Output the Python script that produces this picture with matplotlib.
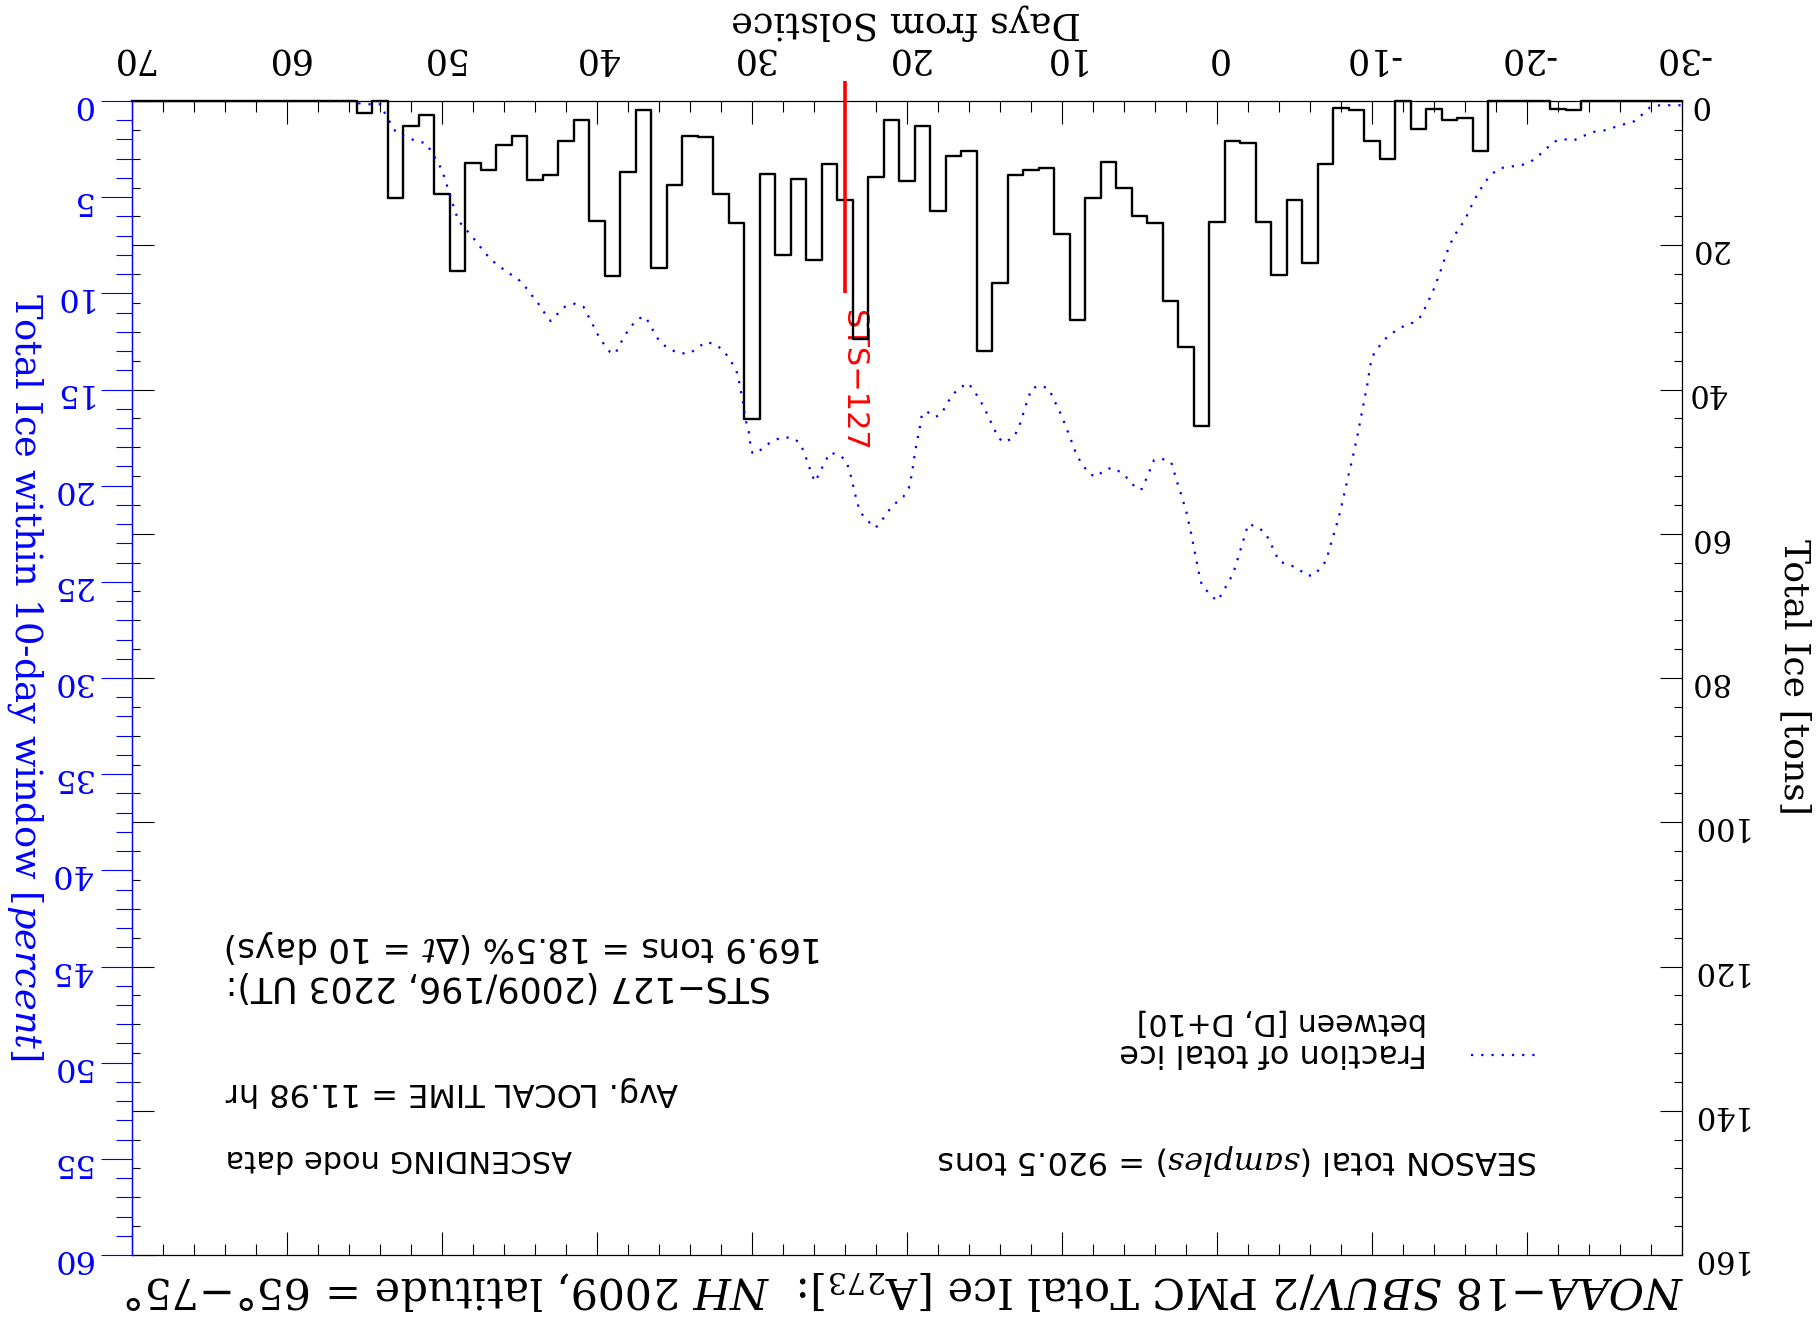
import matplotlib
matplotlib.use("Agg")
import matplotlib.pyplot as plt
from matplotlib.ticker import MultipleLocator
from matplotlib.lines import Line2D

plt.rcParams['mathtext.fontset'] = 'custom'
plt.rcParams['mathtext.rm'] = 'DejaVu Serif'
plt.rcParams['mathtext.it'] = 'DejaVu Serif:italic'
plt.rcParams['mathtext.bf'] = 'DejaVu Serif:bold'
plt.rcParams['axes.unicode_minus'] = False

# Daily PMC ice mass (tons) by day from solstice, 70 ... -30
hist_days = list(range(70, -31, -1))
hist_tons = [
    0, 0, 0, 0, 0, 0, 0, 0, 0, 0, 0, 0, 0, 0, 0,           # 70 .. 56
    1.6, 0.0, 13.5, 3.5, 2.0, 12.9, 23.6, 8.6, 9.5, 6.1,   # 55 .. 46
    4.9, 10.9, 10.3, 5.6, 2.7, 16.7, 24.3, 9.8, 1.3, 23.1, # 45 .. 36
    11.6, 4.9, 5.0, 12.9, 16.9, 44.1, 10.1, 21.3, 10.8, 22.1,  # 35 .. 26
    8.7, 13.7, 33.0, 10.6, 2.6, 11.1, 3.4, 15.2, 7.6, 7.0, # 25 .. 16
    34.7, 25.2, 10.3, 9.5, 9.3, 18.5, 30.3, 13.5, 8.5, 12.1,   # 15 .. 6
    16.0, 16.9, 27.7, 34.1, 45.1, 16.8, 5.5, 5.8, 16.8, 24.1,  # 5 .. -4
    13.7, 22.5, 8.8, 1.0, 1.2, 5.6, 8.0, 0.0, 3.9, 1.1,    # -5 .. -14
    2.6, 2.3, 6.9, 0.0, 0.0, 0.0, 0.0, 1.1, 1.3,           # -15 .. -23
    0, 0, 0, 0, 0, 0, 0,                                   # -24 .. -30
]

# Fraction of the season total falling in [D, D+10] (percent)
frac_days = [
    60, 57, 55.9, 55.33, 54.65, 53.96, 53.66, 53.31, 52.97, 52.34, 51.72, 51.03,
    50.67, 50.34, 50.0, 49.78, 49.59, 49.4, 49.16, 48.95, 48.52, 48.04, 47.63,
    47.2, 46.73, 46.21, 45.66, 45.08, 44.6, 44.21, 43.78, 43.4, 42.99, 42.56,
    42.06, 41.42, 40.88, 40.56, 40.26, 39.96, 39.59, 39.16, 38.84, 38.52, 38.19,
    37.81, 37.34, 36.9, 36.54, 36.24, 35.85, 35.29, 34.69, 34.0, 33.46, 32.92,
    32.28, 31.81, 31.4, 31.03, 30.86, 30.73, 30.6, 30.52, 30.39, 30.21, 30.13,
    29.98, 29.7, 29.2, 28.63, 27.98, 27.29, 26.86, 26.6, 26.37, 26.15, 25.92,
    25.61, 25.29, 24.97, 24.37, 23.92, 23.7, 23.53, 23.38, 23.23, 23.01, 22.6,
    22.02, 21.61, 21.23, 20.75, 20.24, 19.89, 19.74, 19.63, 19.53, 19.42, 19.29,
    19.16, 19.05, 18.77, 18.19, 17.83, 17.44, 17.12, 16.65, 16.05, 15.68, 15.29,
    14.97, 14.69, 14.39, 14.11, 13.74, 13.14, 12.82, 12.6, 12.41, 12.19, 11.96,
    11.38, 10.84, 10.56, 10.26, 9.98, 9.74, 9.48, 9.27, 8.99, 8.62, 8.19, 7.76,
    7.23, 6.69, 6.11, 5.63, 5.18, 4.86, 4.58, 4.32, 4.06, 3.55, 2.95, 2.75, 2.56,
    2.34, 2.15, 1.95, 1.81, 1.66, 1.53, 1.4, 1.27, 1.14, 0.97, 0.5, 0.0, -0.34,
    -0.66, -1.01, -1.23, -1.42, -1.63, -1.81, -2.02, -2.58, -3.12, -3.42, -3.72,
    -4.0, -4.62, -5.23, -5.74, -6.21, -6.69, -7.1, -7.23, -7.44, -7.63, -7.83,
    -8.0, -8.15, -8.3, -8.45, -8.6, -8.76, -8.9, -9.05, -9.18, -9.31, -9.44,
    -9.57, -9.7, -9.81, -9.92, -10.13, -10.52, -10.95, -11.53, -12.13, -12.77,
    -13.21, -13.48, -13.79, -14.06, -14.28, -14.52, -14.73, -14.97, -15.25,
    -15.61, -16.0, -16.28, -16.58, -16.92, -17.29, -17.72, -18.21, -18.9, -19.59,
    -20.19, -20.73, -21.27, -21.76, -22.34, -22.99, -23.63, -24.28, -24.97,
    -25.61, -26.26, -26.9, -27.4, -27.94, -28.58, -30.0,
]
frac_pct = [
    0.0, 0.0, 0.0, 0.12, 0.17, 0.17, 0.68, 1.16, 1.63, 1.87, 2.06, 2.2,
    2.65, 3.1, 3.59, 4.13, 4.63, 5.15, 5.69, 6.22, 6.62, 7.06, 7.49,
    7.92, 8.32, 8.65, 8.96, 9.27, 9.69, 10.1, 10.54, 11.0, 11.44, 11.08,
    10.69, 10.54, 10.69, 11.18, 11.65, 12.13, 12.6, 13.05, 13.16, 12.65, 12.17,
    11.72, 11.32, 11.2, 11.67, 12.17, 12.6, 12.91, 13.12, 13.12, 12.79, 12.52,
    12.7, 13.0, 13.49, 13.96, 14.47, 15.03, 15.55, 16.07, 16.66, 17.2, 17.72,
    18.29, 18.33, 17.96, 17.66, 17.47, 17.54, 17.84, 18.36, 18.88, 19.41, 19.8,
    19.28, 18.76, 18.29, 18.39, 18.72, 19.26, 19.8, 20.33, 20.84, 21.37, 21.79,
    22.19, 21.79, 21.34, 20.92, 20.58, 20.14, 19.6, 19.07, 18.53, 17.98, 17.44,
    16.9, 16.36, 16.12, 16.43, 16.31, 15.79, 15.32, 14.94, 14.66, 15.06, 15.55,
    16.03, 16.52, 17.02, 17.51, 17.75, 17.51, 17.04, 16.52, 16.0, 15.48, 14.94,
    14.8, 14.96, 15.48, 15.96, 16.45, 16.97, 17.47, 17.98, 18.5, 18.98, 19.41, 19.54,
    19.15, 19.07, 19.36, 19.74, 20.18, 20.18, 19.68, 19.17, 18.67, 18.6, 18.79, 19.33, 19.85,
    20.38, 20.9, 21.44, 21.98, 22.52, 23.05, 23.57, 24.11, 24.66, 25.2, 25.6, 26.0, 25.6,
    25.12, 24.63, 24.11, 23.57, 23.05, 22.53, 21.99, 22.14, 22.45, 22.93, 23.44,
    23.94, 24.1, 24.3, 24.66, 24.68, 24.28, 23.83, 23.3, 22.8, 22.26, 21.72,
    21.18, 20.64, 20.12, 19.57, 19.05, 18.51, 17.98, 17.44, 16.9, 16.35, 15.81,
    15.27, 14.73, 14.16, 13.64, 13.12, 12.7, 12.29, 11.94, 11.67, 11.49,
    11.15, 10.66, 10.14, 9.65, 9.14, 8.63, 8.1, 7.59, 7.09,
    6.62, 6.19, 5.67, 5.18, 4.7, 4.21, 3.81, 3.5, 3.41, 3.35,
    3.19, 2.86, 2.46, 2.11, 1.98, 2.06, 1.82, 1.61, 1.53,
    1.37, 1.21, 1.06, 0.73, 0.33, 0.22, 0.22,
]

# Shuttle launch marker
sts_day = 24.0
sts_label = "STS\u2212127"

W, H = 1819, 1318
fig = plt.figure(figsize=(W / 100, H / 100), dpi=100)
fig.patch.set_facecolor("white")

def fx(px):
    return px / W

def fy(py):
    return 1 - py / H

ax = fig.add_axes([fx(132), fy(1255), (1682 - 132) / W, (1255 - 101) / H])
axp = ax.twinx()

SERIF = "DejaVu Serif"
SANS = "DejaVu Sans"

# --- tons axis (black) ---
ax.set_xlim(70, -30)
ax.set_ylim(160, 0)
ax.step(hist_days, hist_tons, where="mid", color="black", lw=1.7,
        zorder=4, clip_on=False)
ax.plot([sts_day, sts_day], [-2.8, 26.6], color="red", lw=2.6,
        zorder=5, clip_on=False, solid_capstyle="butt")
ax.text(sts_day, 29.0, sts_label, rotation=-90, rotation_mode="anchor",
        ha="left", va="baseline", color="red", family=SANS, fontsize=22)

ax.xaxis.set_major_locator(MultipleLocator(10))
ax.xaxis.set_minor_locator(MultipleLocator(2))
ax.yaxis.set_major_locator(MultipleLocator(20))
ax.yaxis.set_minor_locator(MultipleLocator(4))
ax.tick_params(axis="x", which="both", direction="in", top=True, bottom=True,
               labeltop=True, labelbottom=False, width=0.8)
ax.tick_params(axis="x", which="major", length=16.5, pad=18,
               labelsize=25, labelrotation=180)
ax.tick_params(axis="x", which="minor", length=8)
ax.tick_params(axis="y", which="both", direction="in", left=True, right=True,
               labelleft=False, labelright=True, width=0.8)
ax.tick_params(axis="y", which="major", length=16, pad=5,
               labelsize=22, labelrotation=180)
ax.tick_params(axis="y", which="minor", length=6)
for lab in ax.get_xticklabels() + ax.get_yticklabels():
    lab.set_family(SERIF)
for sp in ax.spines.values():
    sp.set_linewidth(0.9)
ax.spines["left"].set_color("blue")

# --- percent axis (blue) ---
axp.set_ylim(60, 0)
axp.plot(frac_days, frac_pct, color="blue", lw=1.6, ls=(0, (1, 3.6)),
         zorder=3)
axp.yaxis.tick_left()
axp.yaxis.set_major_locator(MultipleLocator(5))
axp.yaxis.set_minor_locator(MultipleLocator(1))
axp.tick_params(axis="y", which="both", direction="out", colors="blue",
                width=0.8, left=True, right=False)
axp.tick_params(axis="y", which="major", length=22, pad=7,
                labelsize=23, labelrotation=180)
axp.tick_params(axis="y", which="minor", length=11.5)
for lab in axp.get_yticklabels():
    lab.set_family(SERIF)
axp.spines["left"].set_color("blue")
axp.spines["left"].set_linewidth(0.9)
for side in ("top", "right", "bottom"):
    axp.spines[side].set_visible(False)

# --- axis titles and plot title (upside-down layout) ---
def ftext(px, py, s, **kw):
    kw.setdefault("rotation", 180)
    kw.setdefault("rotation_mode", "anchor")
    kw.setdefault("ha", "center")
    kw.setdefault("va", "center")
    return fig.text(fx(px), fy(py), s, **kw)

ftext(906, 22, "Days from Solstice", family=SERIF, fontsize=26.5)
ftext(1795, 677, "Total Ice [tons]", family=SERIF, fontsize=26, rotation=-90)
ftext(25, 677, "Total Ice within 10-day window [$\\mathit{percent}$]",
      family=SERIF, fontsize=26.5, rotation=-90, color="blue")
ftext(904, 1290,
      "$\\mathit{NOAA{-}18\\ SBUV/2}$ PMC Total Ice [A$_{273}$]:  "
      "$\\mathit{NH\\ 2009}$, latitude = 65\u00b0\u221275\u00b0",
      family=SERIF, fontsize=31)

# --- annotations ---
ftext(226, 1159, "ASCENDING node data", family=SANS, fontsize=22, ha="right")
ftext(226, 1091, "Avg. LOCAL TIME = 11.98 hr", family=SANS, fontsize=23,
      ha="right")
ftext(226, 986, "STS\u2212127 (2009/196, 2203 UT):", family=SANS,
      fontsize=25, ha="right")
ftext(226, 947, "169.9 tons = 18.5% (\u0394$\\mathit{t}$ = 10 days)",
      family=SANS, fontsize=24.5, ha="right")
ftext(1538, 1159, "SEASON total ($\\mathit{samples}$) = 920.5 tons",
      family=SANS, fontsize=23, ha="left")
ftext(1427, 1053, "Fraction of total ice", family=SANS, fontsize=23,
      ha="left")
ftext(1427, 1022, "between [D, D+10]", family=SANS, fontsize=21.5, ha="left")
fig.add_artist(Line2D([fx(1471), fx(1538)], [fy(1055), fy(1055)],
                      transform=fig.transFigure, color="blue", lw=1.6,
                      ls=(0, (1, 3.6))))

fig.savefig("out.png", dpi=100)
